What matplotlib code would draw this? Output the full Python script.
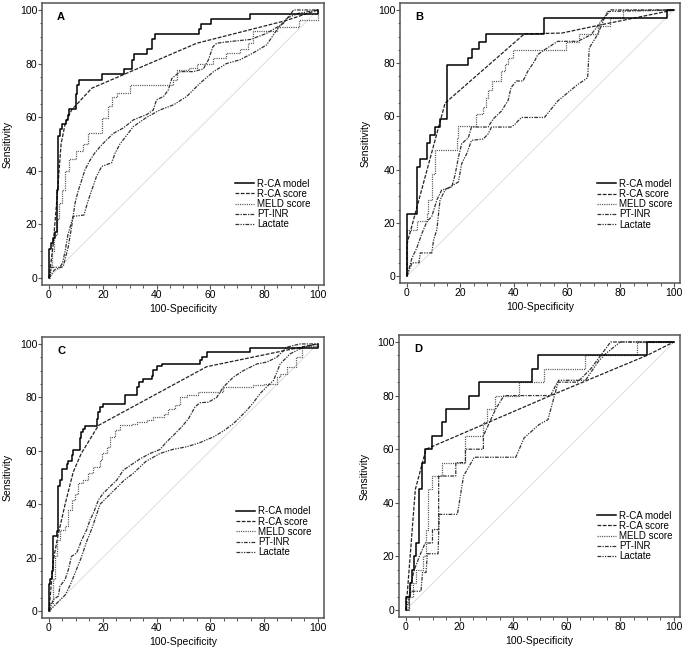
import matplotlib
matplotlib.use("Agg")
import matplotlib.pyplot as plt
from matplotlib.ticker import MultipleLocator

plt.rcParams['font.family'] = ['Liberation Sans', 'DejaVu Sans']

series_names = ["R-CA model", "R-CA score", "MELD score", "PT-INR", "Lactate"]
panel_labels = ["A", "B", "C", "D"]
x_label = "100-Specificity"
y_label = "Sensitivity"

# ---------------- Panel A ----------------
A_model_x = [0, 0, 0.6, 1.6, 2.2, 2.9, 3.5, 4.1, 4.7, 6.3, 7, 7.6, 10, 10.5, 11.2, 19.6, 27.9, 30.9, 31.6, 36.4, 38.5, 39.5, 55.8, 56.6, 60.2, 74.8, 96, 100]
A_model_y = [0, 11, 13, 15, 17, 33, 53, 55.5, 57.5, 59, 61, 63, 68.7, 72, 74, 76, 78, 81.4, 83.5, 85.3, 89, 91, 92.8, 94.7, 96.5, 98.4, 98.4, 100]
A_score_x = [0, 1.5, 3, 4.5, 6, 8.4, 15.9, 55, 88, 100]
A_score_y = [0, 12, 30, 50, 57.5, 62.7, 70.8, 87.6, 96, 100]
A_meld_x = [0, 0.5, 1.2, 2, 3, 3.8, 4.7, 5.9, 7.5, 10, 12.5, 14.6, 19.6, 22, 23.4, 25.2, 30, 46.2, 47.8, 51.9, 55, 61, 66, 71, 74, 76, 84.7, 93, 100]
A_meld_y = [0, 5, 10, 16, 22, 28, 33, 40, 44.5, 47.5, 50, 54, 59.6, 64, 67.7, 69, 72, 74, 77.6, 78.5, 80, 82, 84, 85.3, 87.8, 92, 93.8, 96.3, 100]
A_inr_x = [0, 2, 5.3, 7.2, 8.4, 9.7, 11, 12.2, 13.4, 15.3, 17, 19, 21.5, 24, 27.7, 31.4, 36.4, 38.8, 40, 42.6, 44.4, 45.7, 48.8, 53.7, 57.4, 59.3, 61, 62.4, 67, 75, 81, 87.2, 91, 100]
A_inr_y = [0, 3, 4.3, 11.8, 19, 28, 33, 36.6, 40.4, 44, 46.6, 49, 51.6, 54, 56, 59, 61, 62.7, 66.5, 67.7, 70.2, 74.5, 77, 77, 78, 81.4, 86.3, 87.6, 88.2, 89, 91.3, 95, 100, 100]
A_lac_x = [0, 1, 4, 5, 6, 7, 9, 13, 14.6, 17.7, 19.6, 23.3, 24.6, 26.4, 31.4, 36.4, 41.3, 46.3, 51.2, 56.2, 61.2, 66, 71, 76, 81, 84.7, 88.5, 93, 100]
A_lac_y = [0, 4, 4, 5.5, 10, 16, 23, 23.5, 29, 38, 41.6, 43, 46.6, 50, 56.5, 60, 62.7, 64.6, 67.7, 72.7, 77, 80, 81.4, 84, 87, 92.5, 97, 98.8, 100]

# ---------------- Panel B ----------------
B_model_x = [0, 0, 3.7, 5, 7.5, 8.7, 10.6, 12.4, 14.9, 23, 24.4, 26.9, 29.7, 51.2, 97.5, 100]
B_model_y = [0, 23.5, 41, 44, 50, 53, 56, 59, 79.4, 82, 85.3, 88, 91, 97, 100, 100]
B_score_x = [0, 0, 14.3, 44, 58, 72.7, 100]
B_score_y = [0, 12, 65, 91, 91.3, 94.4, 100]
B_meld_x = [0, 0, 3.7, 7.5, 8, 9.3, 10.6, 18.6, 19.3, 26, 28.6, 29.8, 30.4, 31.7, 35.4, 36.6, 37.9, 39.8, 59.5, 64.6, 71.5, 76, 81, 100]
B_meld_y = [0, 17.4, 20.6, 23.6, 28.6, 38.5, 47.2, 52, 56.5, 61, 63.4, 67, 70, 73.3, 77, 79.5, 82, 85, 88, 91, 94, 97, 100, 100]
B_inr_x = [0, 1.9, 3.7, 5.6, 7.5, 9.3, 11.2, 13, 16.8, 18, 19.3, 20.5, 23, 24.2, 30.4, 32.3, 35.4, 37.9, 39, 41, 43.5, 45.3, 47.8, 49, 51.5, 56.5, 64, 69, 72.7, 76.4, 100]
B_inr_y = [0, 6.8, 10.6, 16, 20.5, 22.4, 28.6, 32.3, 33.5, 37.9, 44.7, 49.7, 52, 56, 56, 59, 62, 66, 70.8, 73.3, 73.3, 77, 80.7, 83.2, 85, 88.2, 88.2, 90.7, 95.7, 100, 100]
B_lac_x = [0, 1.9, 4.5, 5, 9.3, 10, 11.2, 12.4, 14.3, 19.3, 20.5, 22.4, 24.2, 28.6, 30.4, 31.7, 39, 40.4, 42.9, 51.5, 56.5, 64, 67.7, 68.3, 71.4, 75, 100]
B_lac_y = [0, 5, 5, 8.7, 8.7, 13.7, 17.4, 28.6, 32.3, 35.4, 42.2, 46, 51, 51.5, 53.4, 56, 56, 57, 59.6, 59.6, 65.8, 72, 74.5, 85.7, 90.7, 99.4, 100]

# ---------------- Panel C ----------------
C_model_x = [0, 0, 0.4, 1, 1.6, 2.9, 3.5, 4.1, 4.7, 6.6, 7.2, 8.4, 8.8, 11.5, 11.9, 12.8, 13.4, 17.7, 18.4, 19, 20.2, 28.3, 32.6, 33.3, 34.9, 38.2, 38.8, 40, 41.9, 56.2, 56.8, 58.7, 74.8, 100]
C_model_y = [0, 10, 12, 15, 28, 30, 47, 49, 53, 55, 56, 58.5, 60.3, 64.8, 67, 68, 69.4, 72, 74.5, 76.4, 77.6, 80.7, 83.8, 85.6, 87, 88, 90.3, 91.6, 92.6, 94, 95.2, 97, 98.4, 100]
C_score_x = [0, 1.6, 3.5, 6, 9, 12, 18.4, 58.7, 99.6]
C_score_y = [0, 19, 29, 40, 52, 59, 69.5, 91.5, 100]
C_meld_x = [0, 0.5, 1.5, 2.2, 2.9, 4.1, 6, 7.2, 8.4, 9.7, 10.9, 12.8, 14.6, 16.5, 19, 19.6, 21.5, 22.7, 24.6, 26.4, 30.8, 32.6, 36.4, 38.8, 42.6, 44.4, 46.9, 48.8, 51.2, 55.6, 62.4, 64.9, 76, 80, 84.7, 86, 88.5, 92, 94, 100]
C_meld_y = [0, 3, 12, 20.5, 26.7, 30.4, 31.7, 37.9, 41.6, 44, 47.8, 49, 51.6, 54, 56.5, 59, 61.5, 65.2, 67.7, 69.6, 70.2, 70.8, 71.4, 72.7, 73.9, 75.8, 77, 80, 80.7, 82, 82, 83.9, 84.5, 85, 87.6, 88.8, 91.3, 95, 99.4, 100]
C_inr_x = [0, 1.6, 3.5, 4.1, 6, 7.2, 8.4, 10.3, 12.2, 14, 15.3, 16.5, 18.4, 20.2, 22.7, 25.2, 27.7, 31.4, 33.9, 37.6, 41.3, 43.8, 46.3, 49.4, 51.9, 54.3, 56.2, 59.3, 62.4, 64.9, 68.6, 72.3, 77.3, 81, 84.7, 88.5, 93.4, 100]
C_inr_y = [0, 4.3, 5.6, 9.3, 11.8, 15.5, 20.5, 21.7, 26.7, 30.4, 34.2, 36.6, 41.6, 44.1, 46.6, 49, 52.8, 55.3, 57, 59, 60.5, 63.4, 65.8, 69, 72, 76.4, 78, 78.2, 80, 83.9, 87.6, 90, 92.5, 93.2, 95, 98.8, 100, 100]
C_lac_x = [0, 3, 6, 8, 10, 12, 14, 16, 19, 22, 25, 28, 31.4, 36, 41.3, 46, 51.2, 56, 61.2, 65, 68.6, 71, 73.6, 76, 78.5, 81, 83.5, 86, 89.7, 94, 100]
C_lac_y = [0, 3, 6, 10, 15, 20, 26, 31, 40, 43, 46, 49, 51.6, 56, 59, 60.5, 61.5, 63, 65.2, 67.5, 70.2, 72.5, 75.2, 78, 81.4, 84, 86.3, 92.5, 96.3, 98.5, 100]

# ---------------- Panel D ----------------
D_model_x = [0, 0, 1.5, 2.2, 3, 3.7, 5, 5.9, 7.2, 9.9, 13.6, 15.1, 23.6, 27.3, 47.2, 49.3, 90, 100]
D_model_y = [0, 5, 10, 15, 20, 25, 45, 55, 60, 65, 70, 75, 80, 85, 90, 95, 100, 100]
D_score_x = [0, 3.5, 7.5, 54, 90, 100]
D_score_y = [0, 45, 60, 80, 95, 100]
D_meld_x = [0, 1.2, 2.5, 3.7, 6.5, 7.5, 8.4, 9.6, 13.6, 22.2, 28.9, 30.1, 33.3, 42.3, 51.5, 67, 86.3, 100]
D_meld_y = [0, 5, 10, 15, 20, 30, 45, 50, 55, 65, 70, 75, 80, 85, 90, 95, 100, 100]
D_inr_x = [0, 1.2, 1.2, 1.9, 3.1, 5, 7.2, 9.9, 9.9, 12.2, 12.2, 18.6, 18.6, 22.2, 22.2, 28.9, 28.9, 33.5, 36.6, 54, 56.5, 64, 69, 72.7, 76.4, 100]
D_inr_y = [0, 0, 5, 10, 15, 20, 25, 25, 30, 30, 50, 50, 55, 55, 60, 60, 65, 75, 80, 80, 85, 85, 90, 95, 100, 100]
D_lac_x = [0, 1.9, 5.6, 6.2, 7.5, 8, 12, 12.4, 19.2, 21.5, 25.5, 41, 44.1, 49.7, 53, 57, 67, 72, 75, 80, 100]
D_lac_y = [0, 7, 7, 14, 14, 21, 21, 35.7, 35.7, 50, 57, 57, 64.2, 69.2, 71, 85.7, 85.7, 93, 96, 100, 100]

panels = [
    (A_model_x, A_model_y, A_score_x, A_score_y, A_meld_x, A_meld_y, A_inr_x, A_inr_y, A_lac_x, A_lac_y),
    (B_model_x, B_model_y, B_score_x, B_score_y, B_meld_x, B_meld_y, B_inr_x, B_inr_y, B_lac_x, B_lac_y),
    (C_model_x, C_model_y, C_score_x, C_score_y, C_meld_x, C_meld_y, C_inr_x, C_inr_y, C_lac_x, C_lac_y),
    (D_model_x, D_model_y, D_score_x, D_score_y, D_meld_x, D_meld_y, D_inr_x, D_inr_y, D_lac_x, D_lac_y),
]

positions = [
    [42/685, 1 - 285/647, 282/685, 282/647],
    [400/685, 1 - 283/647, 280/685, 280/647],
    [42/685, 1 - 618/647, 282/685, 281/647],
    [399/685, 1 - 617/647, 281/685, 282/647],
]
legend_anchor = [(0.683, 0.377), (0.703, 0.372), (0.688, 0.397), (0.703, 0.377)]

fig = plt.figure(figsize=(6.85, 6.47), dpi=100)
spine_col = '#555555'
fs = 7.5

for i, data in enumerate(panels):
    ax = fig.add_axes(positions[i])
    mx, my, sx, sy, mex, mey, ix, iy, lx, ly = data
    ax.plot([0, 100], [0, 100], color='#d9d9d9', lw=0.6, zorder=1)
    ax.plot(mx, my, color='black', lw=1.1, drawstyle='steps-post', label=series_names[0], zorder=5)
    ax.plot(sx, sy, color='#222222', lw=0.9, linestyle=(0, (3, 1.2)), label=series_names[1], zorder=4)
    ax.plot(mex, mey, color='#555555', lw=0.9, linestyle=(0, (0.9, 0.9)), drawstyle='steps-post', label=series_names[2], zorder=3)
    ax.plot(ix, iy, color='#333333', lw=0.9, linestyle=(0, (3, 1, 1, 1)), label=series_names[3], zorder=3)
    ax.plot(lx, ly, color='#333333', lw=0.9, linestyle=(0, (3, 1, 1, 1, 1, 1)), label=series_names[4], zorder=3)

    ax.set_xlim(-2.6, 102.3)
    ax.set_ylim(-2.6, 102.6)
    ax.xaxis.set_major_locator(MultipleLocator(20))
    ax.yaxis.set_major_locator(MultipleLocator(20))
    ax.xaxis.set_minor_locator(MultipleLocator(5))
    ax.yaxis.set_minor_locator(MultipleLocator(5))
    ax.tick_params(which='major', direction='out', length=2.8, width=0.8, color=spine_col, labelsize=fs, pad=0.6)
    ax.tick_params(which='minor', direction='out', length=1.8, width=0.7, color=spine_col)
    for sp in ax.spines.values():
        sp.set_color(spine_col)
        sp.set_linewidth(1.1)
    ax.set_xlabel(x_label, fontsize=fs, labelpad=3)
    ax.set_ylabel(y_label, fontsize=fs, labelpad=5)
    ax.text(3, 97.5, panel_labels[i], fontsize=8, fontweight='bold', ha='left', va='center')
    ax.legend(loc='upper left', bbox_to_anchor=legend_anchor[i], frameon=False, fontsize=7.0,
              handlelength=2.0, handletextpad=0.3, labelspacing=0.02, borderpad=0, borderaxespad=0)

fig.savefig('out.png', dpi=100)
